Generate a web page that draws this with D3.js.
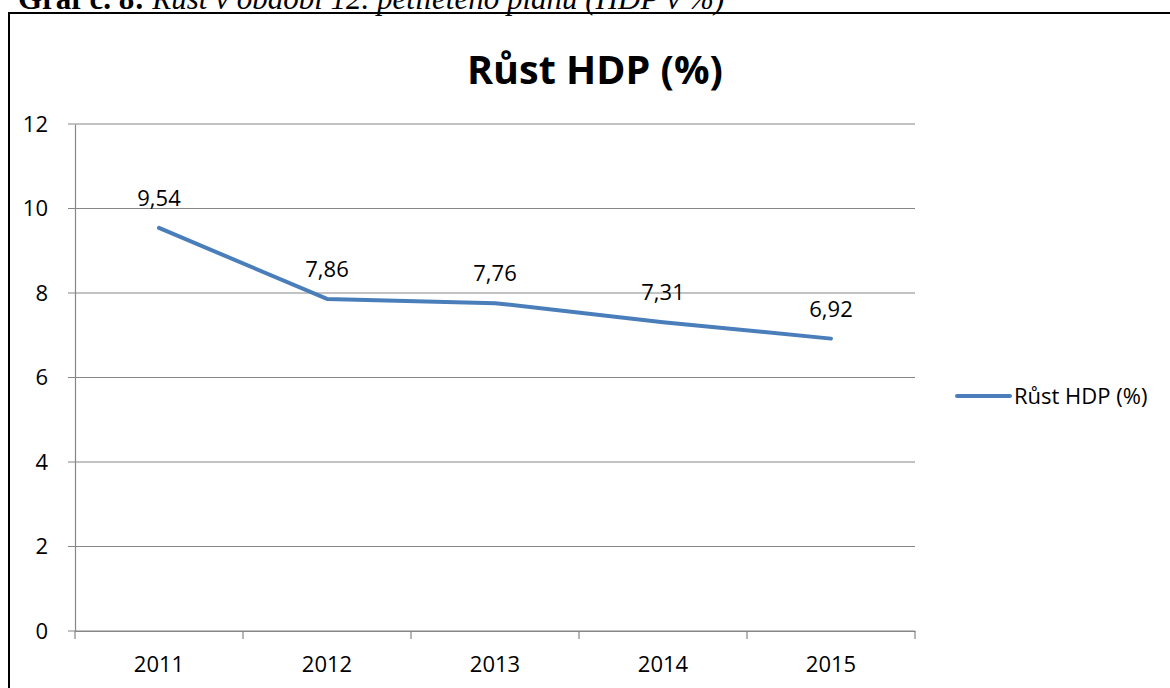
<!DOCTYPE html>
<html><head><meta charset="utf-8">
<script src="https://cdn.jsdelivr.net/npm/d3@7"></script>
<style>html,body{margin:0;padding:0;background:#fff;overflow:hidden}</style>
</head><body>
<script>
const years = ["2011","2012","2013","2014","2015"];
const growth = [9.54, 7.86, 7.76, 7.31, 6.92];
const labels = ["9,54","7,86","7,76","7,31","6,92"];
const yTicks = [0,2,4,6,8,10,12];
const seriesName = "Růst HDP (%)";
const chartTitle = "Růst HDP (%)";

const W = 1170, H = 688;
const svg = d3.select("body").append("svg").attr("width", W).attr("height", H);
const font = "'Open Sans', 'Noto Sans', sans-serif";
const fs = 22;

// caption (cut off at top)
const cap = svg.append("text").attr("x", 18).attr("y", 9)
  .attr("font-family", "'Liberation Serif', 'Times New Roman', serif").attr("font-size", 31).attr("fill", "#000");
cap.append("tspan").attr("font-weight", "bold").text("Graf č. 8: ");
cap.append("tspan").attr("font-style", "italic").text("Růst v období 12. pětiletého plánu (HDP v %)");

// frame
svg.append("rect").attr("x", 9).attr("y", 13).attr("width", 1200).attr("height", 700)
  .attr("fill", "none").attr("stroke", "#000").attr("stroke-width", 2);

const x0 = 75, x1 = 915, yTop = 124, yBot = 631;
const x = d3.scaleBand().domain(years).range([x0, x1]);
const y = d3.scaleLinear().domain([0, 12]).range([yBot, yTop]);

// gridlines
svg.append("g").selectAll("line").data(yTicks).join("line")
  .attr("x1", x0 - 7).attr("x2", x1).attr("y1", d => y(d)).attr("y2", d => y(d))
  .attr("stroke", "#868686").attr("stroke-width", 1.2);

// y axis
const yAx = svg.append("g").attr("transform", `translate(${x0},0)`)
  .call(d3.axisLeft(y).tickValues(yTicks).tickSize(0).tickPadding(27));
yAx.select(".domain").attr("stroke", "#868686").attr("stroke-width", 1.2);
yAx.selectAll("text").attr("font-family", font).attr("font-size", fs).attr("fill", "#000");

// x axis
const xAx = svg.append("g").attr("transform", `translate(0,${yBot})`)
  .call(d3.axisBottom(x).tickSize(0).tickPadding(25));
xAx.select(".domain").attr("stroke", "#868686").attr("stroke-width", 1.2);
xAx.selectAll("text").attr("font-family", font).attr("font-size", fs).attr("fill", "#000");
const bounds = [...years.map(d => x(d)), x1];
xAx.selectAll(".bt").data(bounds).join("line").attr("class", "bt")
  .attr("x1", d => d).attr("x2", d => d).attr("y1", 0).attr("y2", 8)
  .attr("stroke", "#868686").attr("stroke-width", 1.2);

// line
const cx = d => x(d) + x.bandwidth() / 2;
svg.append("path").datum(growth.map((v, i) => [years[i], v]))
  .attr("d", d3.line().x(d => cx(d[0])).y(d => y(d[1])))
  .attr("fill", "none").attr("stroke", "#4A7EBB").attr("stroke-width", 4)
  .attr("stroke-linejoin", "round").attr("stroke-linecap", "round");

// data labels
svg.append("g").selectAll("text").data(growth).join("text")
  .attr("x", (d, i) => cx(years[i])).attr("y", d => y(d) - 22)
  .attr("text-anchor", "middle").attr("font-family", font).attr("font-size", fs).attr("fill", "#000")
  .text((d, i) => labels[i]);

// title
svg.append("text").attr("x", 595).attr("y", 84).attr("text-anchor", "middle")
  .attr("font-family", font).attr("font-weight", "bold").attr("font-size", 39.5).attr("fill", "#000")
  .text(chartTitle);

// legend
svg.append("line").attr("x1", 957).attr("x2", 1010).attr("y1", 396).attr("y2", 396)
  .attr("stroke", "#4A7EBB").attr("stroke-width", 4).attr("stroke-linecap", "round");
svg.append("text").attr("x", 1014).attr("y", 404).attr("font-family", font).attr("font-size", fs)
  .attr("fill", "#000").text(seriesName);
</script>
</body></html>
